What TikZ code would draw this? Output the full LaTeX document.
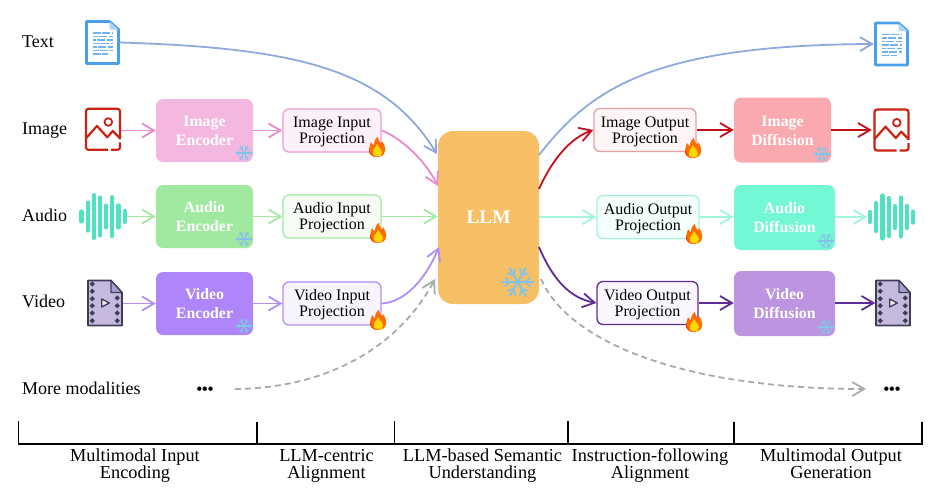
\documentclass[tikz,border=0pt]{standalone}
\usepackage{fontspec}
\setmainfont{Liberation Serif}
\usetikzlibrary{positioning}
\usetikzlibrary{arrows.meta}

\definecolor{textline}{HTML}{8FA9DC}
\definecolor{imgline}{HTML}{E98ACB}
\definecolor{audline}{HTML}{A3E8A3}
\definecolor{vidline}{HTML}{B18DF6}
\definecolor{imgout}{HTML}{C40E1C}
\definecolor{audout}{HTML}{A2F5DA}
\definecolor{vidout}{HTML}{5E2B97}
\definecolor{moreline}{HTML}{A9A9A9}
\definecolor{docblue}{HTML}{4A9FEB}
\definecolor{picred}{HTML}{CB2312}
\definecolor{wavegreen}{HTML}{4FE2C0}
\definecolor{filmdark}{HTML}{3F3D56}
\definecolor{filmfill}{HTML}{C5B9DE}
\definecolor{filmfold}{HTML}{A79FCF}
\definecolor{flake}{HTML}{84C2E6}

\tikzset{
  labeltext/.style={font=\fontsize{18}{20}\selectfont,anchor=base west,inner sep=0pt},
  stagetext/.style={font=\fontsize{18.3}{16.7}\selectfont,align=center,inner sep=0pt,anchor=base},
  bigbox/.style={rounded corners=7pt,minimum width=97pt,minimum height=63pt,inner sep=0pt,
    text=white,align=center,text height=30.4pt,text depth=0pt,font=\fontsize{15.8}{19}\selectfont\bfseries},
  projbox/.style={rounded corners=6pt,draw,line width=1.3pt,minimum width=98pt,minimum height=43pt,
    inner sep=0pt,align=center,text height=26pt,text depth=0pt,font=\fontsize{16}{16}\selectfont},
  iconbox/.style={minimum width=35pt,minimum height=44pt,inner sep=0pt},
  flow/.style={line width=1.8pt,-{Straight Barb[length=12pt,width=14pt,line width=1.8pt]}},
  bracket/.style={line width=1.6pt,black},
  docicon/.pic={
    \draw[docblue,line width=2.8pt,line join=round,fill=white] (-16,-21) -- (7,-21) -- (16,-13) -- (16,21) -- (-16,21) -- cycle;
    \fill[docblue!45] (7,-21) -- (16,-13) -- (7,-13) -- cycle;
    \foreach \yy/\bb/\ph in {-9.5/10/0,-6/10/3,-2.5/10/5,1/10/1,4.5/10/4,8/10/2,11.5/5/0}
      \draw[docblue!80,line width=1.1pt,dash pattern=on 8pt off 1.5pt,dash phase=\ph] (-10,\yy) -- (\bb,\yy);
  },
  picicon/.pic={
    \draw[picred,line width=2.2pt,rounded corners=2.5pt] (5,20.5) -- (-17,20.5) -- (-17,-20.5) -- (17,-20.5) -- (17,10);
    \draw[picred,line width=2.2pt,rounded corners=2.5pt] (17,13) -- (17,20.5) -- (8,20.5);
    \draw[picred,line width=2.2pt,line join=round] (-17,9) -- (-6,-3.3) -- (4.3,8) -- (9.7,1.7) -- (17,9);
    \draw[picred,line width=1.8pt] (5.3,-7.3) circle (3.8);
  },
  waveicon/.pic={
    \foreach \xx/\hh in {-21.5/5,-15.2/14,-9/21.5,-2.8/19,3.2/11,9.2/19.5,15.5/11,21.8/5.5}
      \draw[wavegreen,line width=4.2pt,line cap=round] (\xx,-\hh) -- (\xx,\hh);
  },
  filmicon/.pic={
    \draw[filmdark,line width=1.6pt,line join=round,fill=filmfill] (-17,-22.5) -- (6,-22.5) -- (17,-10.5) -- (17,22.5) -- (-17,22.5) -- cycle;
    \draw[filmdark,line width=1.2pt,line join=round,fill=filmfold] (6,-22.5) -- (17,-10.5) -- (6,-10.5) -- cycle;
    \foreach \yy in {-19,-11.7,-4.3,2.7,10,17.7}
      \draw[filmdark,line width=1.6pt,fill=filmfill!60] (-12.7,\yy) circle (1.5);
    \foreach \yy in {-5,2.7,10,17.7}
      \draw[filmdark,line width=1.6pt,fill=filmfill!60] (12.3,\yy) circle (1.5);
    \draw[filmdark,line width=1.3pt,line join=round,fill=white!70!filmfill] (-3.3,-4) -- (4.3,0) -- (-3.3,4) -- cycle;
  },
  flakeicon/.pic={
    \foreach \aa in {0,60,...,300}{
      \begin{scope}[rotate=\aa]
        \draw[flake,line width=0.13*\pgfkeysvalueof{/tikz/flakesize}pt,line cap=round] (0,0) -- (\pgfkeysvalueof{/tikz/flakesize},0);
        \draw[flake,line width=0.11*\pgfkeysvalueof{/tikz/flakesize}pt,line cap=round]
          (0.5*\pgfkeysvalueof{/tikz/flakesize},0) -- ++(0.28*\pgfkeysvalueof{/tikz/flakesize},0.28*\pgfkeysvalueof{/tikz/flakesize})
          (0.5*\pgfkeysvalueof{/tikz/flakesize},0) -- ++(0.28*\pgfkeysvalueof{/tikz/flakesize},-0.28*\pgfkeysvalueof{/tikz/flakesize});
      \end{scope}
    }
  },
  flakesize/.initial=8,
  fireicon/.pic={
    \fill[orange!85!red] (0,10) .. controls (-6,10) and (-8.5,6) .. (-8,2) .. controls (-7.5,-1) and (-6.5,-2) .. (-6,-5)
      .. controls (-4.5,-4) and (-4,-3) .. (-3.5,-1.5) .. controls (-3,-5) and (-2,-8) .. (1,-10.5)
      .. controls (1,-7) and (3,-5) .. (4,-3.5) .. controls (4.5,-4) and (5,-4.5) .. (5,-6)
      .. controls (7.5,-2.5) and (8.5,1) .. (8,4) .. controls (7.5,8) and (4,10) .. (0,10) -- cycle;
    \fill[red!55!orange] (-7,4) .. controls (-6,8) and (-3,9.5) .. (0,10) .. controls (-6,10) and (-8.5,6) .. (-8,2) -- cycle;
    \fill[yellow!75!orange] (0,9.5) .. controls (-4,9.5) and (-5,6) .. (-4,3.5) .. controls (-3,1.5) and (-1,0) .. (0,-3)
      .. controls (1.5,0) and (5,2.5) .. (5,6) .. controls (5,8.5) and (3,9.5) .. (0,9.5) -- cycle;
  },
}

\begin{document}
\begin{tikzpicture}[x=1pt,y=-1pt,on grid]
  \useasboundingbox (0,0) rectangle (940,499);

  % left column
  \node[labeltext] (textlab) at (22,47.5) {Text};
  \node[labeltext,below=86.5pt of textlab.base west,anchor=base west] (imglab) {Image};
  \node[labeltext,below=87pt of imglab.base west,anchor=base west] (audlab) {Audio};
  \node[labeltext,below=86.5pt of audlab.base west,anchor=base west] (vidlab) {Video};
  \node[labeltext,below=87pt of vidlab.base west,anchor=base west] (morelab) {More modalities};

  \node[iconbox] (textin) at (102.5,42.5) {};
  \node[iconbox] (imgin) at (103,129.3) {};
  \node[iconbox,minimum width=48pt] (audin) at (103,216.5) {};
  \node[iconbox] (vidin) at (105,303) {};
  \node[inner sep=0pt,font=\fontsize{16}{16}\selectfont\bfseries] (dotsin) at (205,391) {•••};
  \coordinate (morein) at (235,389);

  % encoders and projections
  \node[bigbox,fill={rgb,255:red,244;green,184;blue,224}] (imgenc) at (204.5,130.5) {Image\\Encoder};
  \node[bigbox,fill={rgb,255:red,161;green,232;blue,160},below=86pt of imgenc] (audenc) {Audio\\Encoder};
  \node[bigbox,fill={rgb,255:red,175;green,133;blue,250},below=87pt of audenc] (videnc) {Video\\Encoder};

  \node[projbox,draw=imgline!85,fill=imgline!12,right=127.5pt of imgenc] (imgproj) {Image Input\\Projection};
  \node[projbox,draw=audline,fill=audline!12,right=127.5pt of audenc] (audproj) {Audio Input\\Projection};
  \node[projbox,draw=vidline,fill=vidline!10,right=127.5pt of videnc] (vidproj) {Video Input\\Projection};

  % middle
  \node[rounded corners=15pt,fill={rgb,255:red,247;green,192;blue,102},minimum width=101pt,minimum height=173pt,
    text=white,font=\fontsize{19.3}{20}\selectfont\bfseries,inner sep=0pt] (llm) at (488.5,217.5) {LLM};

  % outputs
  \node[projbox,draw=imgout!40!white,fill=imgout!4,minimum width=102pt] (imgoproj) at (645,130) {Image Output\\Projection};
  \node[projbox,draw=audout,fill=audout!12,minimum width=102pt] (audoproj) at (648,217) {Audio Output\\Projection};
  \node[projbox,draw=vidout,fill=vidline!8,minimum width=101pt] (vidoproj) at (647.5,303) {Video Output\\Projection};

  \node[bigbox,fill={rgb,255:red,250;green,169;blue,176},minimum height=65pt] (imgdif) at (782.5,130) {Image\\Diffusion};
  \node[bigbox,fill={rgb,255:red,116;green,247;blue,213},minimum width=101pt,minimum height=65pt] (auddif) at (784.5,217.5) {Audio\\Diffusion};
  \node[bigbox,fill={rgb,255:red,188;green,148;blue,224},minimum width=101pt,minimum height=65pt] (viddif) at (784.5,303.5) {Video\\Diffusion};

  \node[iconbox] (textout) at (891.5,44) {};
  \node[iconbox] (imgend) at (891.5,130) {};
  \node[iconbox,minimum width=48pt] (audend) at (891.5,217) {};
  \node[iconbox] (vidend) at (893,303) {};
  \node[inner sep=0pt,font=\fontsize{16}{16}\selectfont\bfseries] (dotsout) at (892,391) {•••};
  \coordinate (moreout) at (866,389);

  \pic at (textin) {docicon};
  \pic at (imgin) {picicon};
  \pic at (audin) {waveicon};
  \pic at (vidin) {filmicon};
  \pic at (textout) {docicon};
  \pic at (imgend) {picicon};
  \pic at (audend) {waveicon};
  \pic at (vidend) {filmicon};

  % where the curves meet the LLM
  \coordinate (lltext) at (437,154);
  \coordinate (llimg) at (438,186);
  \coordinate (llvid) at (439,247);
  \coordinate (llmore) at (435,279);
  \coordinate (lrtext) at (539,155);
  \coordinate (lrimg) at (539,189);
  \coordinate (lrvid) at (539,247);
  \coordinate (lrmore) at (541,279);

  % connectors
  \draw[flow,textline] (textin.east) .. controls (300,48) and (385,70) .. (lltext);
  \draw[flow,imgline] (imgin.east |- imgenc.west) -- (imgenc.west);
  \draw[flow,imgline] (imgenc.east) -- (imgproj.west);
  \draw[flow,imgline] (imgproj.east) .. controls (400,137) and (425,160) .. (llimg);
  \draw[flow,audline] (audin.east) -- (audenc.west);
  \draw[flow,audline] (audenc.east) -- (audproj.west);
  \draw[flow,audline] (audproj.east) -- (audproj.east -| llm.west);
  \draw[flow,vidline] (vidin.east |- videnc.west) -- (videnc.west);
  \draw[flow,vidline] (videnc.east) -- (vidproj.west);
  \draw[flow,vidline] (vidproj.east) .. controls (405,302) and (425,280) .. (llvid);
  \draw[flow,moreline,dash pattern=on 6pt off 4pt] (morein) .. controls (330,388) and (400,345) .. (llmore);

  \draw[flow,textline] (lrtext) .. controls (590,90) and (650,45) .. (textout.west);
  \draw[flow,imgout] (lrimg) .. controls (552,160) and (570,138) .. (imgoproj.west);
  \draw[flow,audout] (llm.east |- audoproj.west) -- (audoproj.west);
  \draw[flow,vidout] (lrvid) .. controls (553,280) and (570,298) .. (vidoproj.west);
  \draw[flow,moreline,dash pattern=on 6pt off 4pt] (lrmore) .. controls (570,345) and (690,389) .. (moreout);

  \draw[flow,imgout] (imgoproj.east) -- (imgdif.west);
  \draw[flow,imgout,shorten >=2pt] (imgdif.east) -- (imgend.west);
  \draw[flow,audout] (audoproj.east) -- (auddif.west |- audoproj.east);
  \draw[flow,audout] (auddif.east |- audend.west) -- (audend.west);
  \draw[flow,vidout] (vidoproj.east) -- (viddif.west |- vidoproj.east);
  \draw[flow,vidout] (viddif.east |- vidend.west) -- (vidend.west);

  % snow and fire
  \pic at (244,153) {flakeicon};
  \pic at (244,239) {flakeicon};
  \pic at (244,326) {flakeicon};
  \pic at (822,154) {flakeicon};
  \pic at (826,241) {flakeicon};
  \pic at (826,327) {flakeicon};
  \pic[flakesize=16] at (517.7,282) {flakeicon};
  \pic at (377,147) {fireicon};
  \pic at (378,233) {fireicon};
  \pic at (378,320) {fireicon};
  \pic at (693,148) {fireicon};
  \pic at (694,234) {fireicon};
  \pic at (694,322) {fireicon};

  % stage brackets
  \coordinate (b0) at (18.5,444);
  \coordinate (b1) at (257,444);
  \coordinate (b2) at (394.5,444);
  \coordinate (b3) at (568,444);
  \coordinate (b4) at (734,444);
  \coordinate (b5) at (922,444);
  \draw[bracket] (b0) ++(0,-23) -- (b0) -- (b5) -- ++(0,-22);
  \draw[bracket] (b1) -- ++(0,-22);
  \draw[bracket] (b2) -- ++(0,-23);
  \draw[bracket] (b3) -- ++(0,-23);
  \draw[bracket] (b4) -- ++(0,-22);

  \node[stagetext] (stage1) at (135,478.5) {Multimodal Input\\Encoding};
  \node[stagetext] (stage2) at (326.5,478.5) {LLM-centric\\Alignment};
  \node[stagetext] (stage3) at (482.5,478.5) {LLM-based Semantic\\Understanding};
  \node[stagetext] (stage4) at (650,478.5) {Instruction-following\\Alignment};
  \node[stagetext] (stage5) at (831,478.5) {Multimodal Output\\Generation};
\end{tikzpicture}
\end{document}
